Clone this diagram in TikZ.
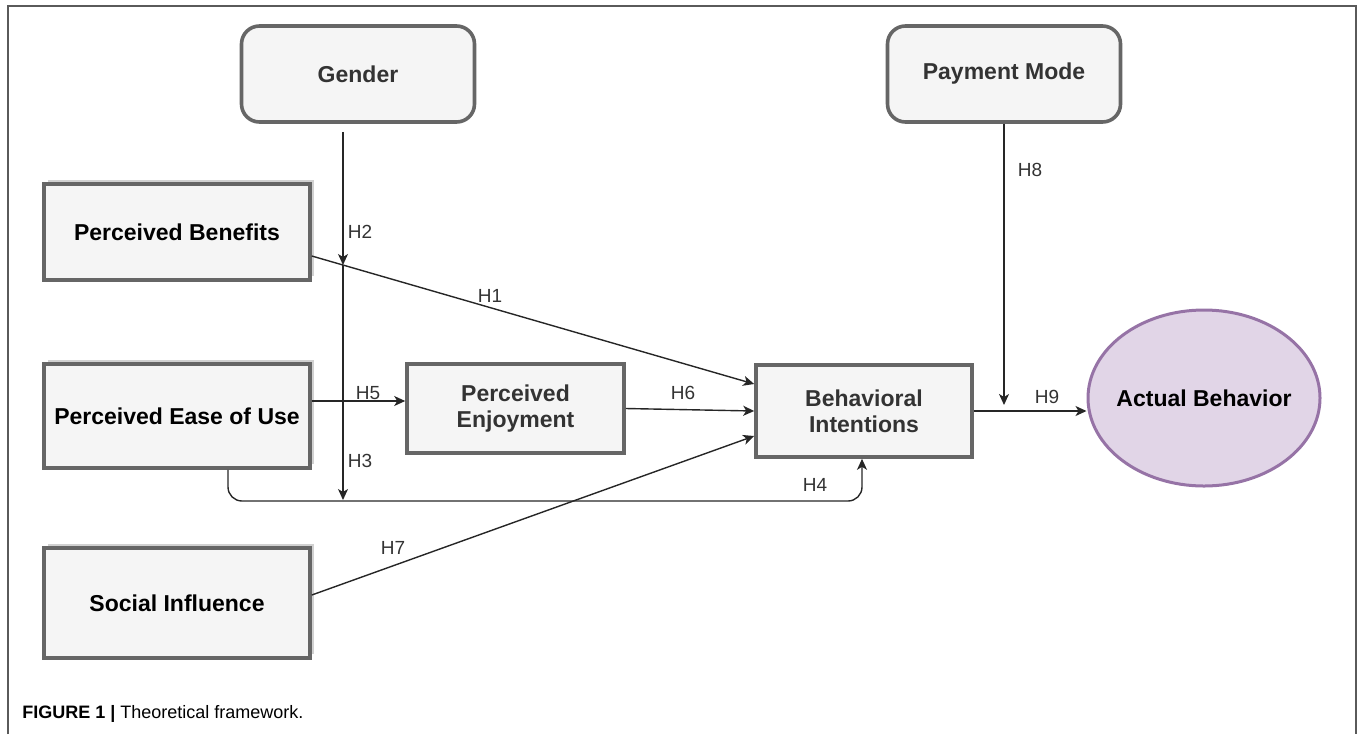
\documentclass[tikz,border=0pt]{standalone}
\usepackage{fontspec}
\setmainfont{Liberation Sans}
\usetikzlibrary{arrows.meta}
\usetikzlibrary{shadows}
\usetikzlibrary{shapes}

\definecolor{boxfill}{RGB}{245,245,245}
\definecolor{boxline}{RGB}{102,102,102}
\definecolor{ellfill}{RGB}{225,213,231}
\definecolor{ellline}{RGB}{150,115,166}
\definecolor{frameline}{RGB}{90,90,90}

\begin{document}
\begin{tikzpicture}[x=0.5pt,y=0.5pt,yscale=-1,xscale=1,
  construct/.style={draw=boxline,fill=boxfill,line width=1.8pt,align=center,
    font=\fontsize{11.5}{13}\selectfont\bfseries,inner sep=2pt},
  shadowed/.style={drop shadow={shadow xshift=2pt,shadow yshift=2pt,fill=black!30,opacity=0.6}},
  moderator/.style={construct,rounded corners=9pt,text=black!80,minimum width=116.5pt,minimum height=48pt},
  hyp/.style={font=\fontsize{9.5}{11}\selectfont,text=black!80,inner sep=0.75pt},
  link/.style={draw=black!85,line width=0.7pt,-{Stealth[length=5.5pt,width=5pt,inset=1.5pt]}},
  plain/.style={draw=black!85,line width=0.7pt}]
\useasboundingbox (0,0) rectangle (1358,734);

%Frame
\draw [frameline,line width=1pt] (8,734) -- (8,6) -- (1356,6) -- (1356,734);

%Shape: Rounded Rectangle
\node [moderator] (gen) at (358,74) {Gender};
%Shape: Rounded Rectangle
\node [moderator] (pm) at (1004,74) {Payment Mode};
%Shape: Rectangle
\node [construct,shadowed,minimum width=133pt,minimum height=48pt] (pb) at (177,232) {Perceived Benefits};
%Shape: Rectangle
\node [construct,shadowed,minimum width=133pt,minimum height=52pt] (peou) at (177,416) {Perceived Ease of Use};
%Shape: Rectangle
\node [construct,shadowed,minimum width=133pt,minimum height=55pt] (si) at (177,603) {Social Influence};
%Shape: Rectangle
\node [construct,text=black!80,minimum width=108.5pt,minimum height=44.5pt] (pe) at (515.5,408.5) {Perceived\\Enjoyment};
%Shape: Rectangle
\node [construct,text=black!80,minimum width=108pt,minimum height=46pt] (bi) at (864,411) {Behavioral\\Intentions};
%Shape: Ellipse
\node [ellipse,draw=ellline,fill=ellfill,line width=1.5pt,minimum width=116pt,minimum height=88pt,
  inner xsep=-12pt,inner ysep=0pt,font=\fontsize{11.5}{13}\selectfont\bfseries] (ab) at (1204,398) {Actual Behavior};

%Straight Lines
\coordinate (h2tip) at (343,265);
\coordinate (h3tip) at (343,500);
\coordinate (h8tip) at (1004,405);
\coordinate (h4bend) at (862,501);
\draw [link] ([xshift=-7.5pt,yshift=4pt]gen.south) -- (h2tip);
\draw [link] (h2tip) -- (h3tip);
\draw [link] (pm.south) -- (h8tip);
\draw [link] ([yshift=12pt]pb.east) -- ([yshift=-13.5pt]bi.west);
\draw [link] ([yshift=-7.5pt]peou.east) -- ([yshift=-7.5pt]peou.east -| pe.west);
\draw [link] (pe.east) -- (bi.west);
\draw [link] ([yshift=-4pt]si.east) -- ([yshift=12.5pt]bi.west);
\draw [link] (bi.east) -- (bi.east -| ab.west);
%Connector with rounded corners
\draw [link,rounded corners=7pt] ([xshift=25.5pt]peou.south) |- (h4bend) -- (h4bend |- bi.south);

% Text Node
\node [hyp] (l1) at (490,296) {H1};
\node [hyp] (l2) at (360,232) {H2};
\node [hyp] (l3) at (360,461) {H3};
\node [hyp] (l4) at (815,485) {H4};
\node [hyp] (l5) at (368,393) {H5};
\node [hyp] (l6) at (683,393) {H6};
\node [hyp] (l7) at (393,548) {H7};
\node [hyp] (l8) at (1030,170) {H8};
\node [hyp] (l9) at (1047,397) {H9};
% Caption
\node [anchor=west,inner sep=0pt,font=\fontsize{9}{11}\selectfont] (cap) at (22,714)
  {\textbf{FIGURE 1 |} Theoretical framework.};

\end{tikzpicture}
\end{document}
